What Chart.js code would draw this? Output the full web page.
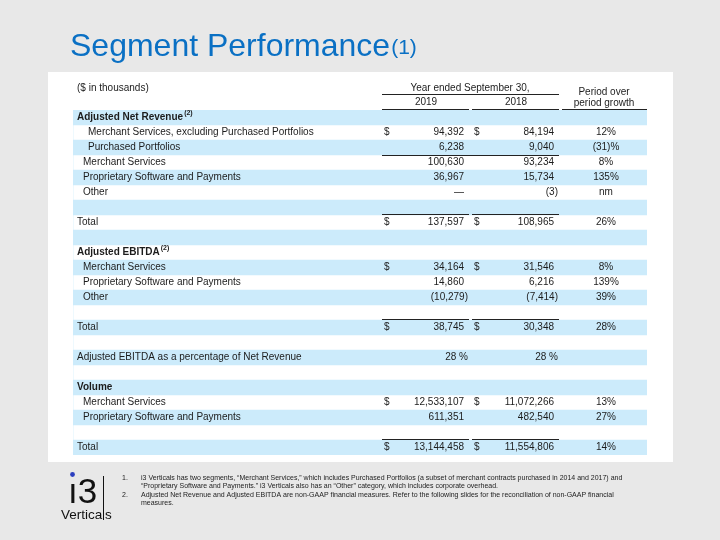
<!DOCTYPE html>
<html>
<head>
<meta charset="utf-8">
<script src="https://cdn.jsdelivr.net/npm/chart.js@4/dist/chart.umd.min.js"></script>
<style>
  html, body { margin: 0; padding: 0; background: #e8e8e8; }
  canvas { display: block; }
</style>
</head>
<body>
<canvas id="myChart" width="720" height="540"></canvas>
<script>
// table rows, top to bottom
const rowLabels = [
    'Adjusted Net Revenue', 'Merchant Services, excluding Purchased Portfolios', 'Purchased Portfolios',
    'Merchant Services', 'Proprietary Software and Payments', 'Other', '', 'Total', '',
    'Adjusted EBITDA', 'Merchant Services', 'Proprietary Software and Payments', 'Other', '', 'Total', '',
    'Adjusted EBITDA as a percentage of Net Revenue', '',
    'Volume', 'Merchant Services', 'Proprietary Software and Payments', '', 'Total'
];
const rowIndent = [0, 2, 2, 1, 1, 1, 0, 0, 0, 0, 1, 1, 1, 0, 0, 0, 0, 0, 0, 1, 1, 0, 0];
const boldRows = [0, 9, 18];
const noteRows = [0, 9];
const values2019 = ['', '94,392', '6,238', '100,630', '36,967', '—', '', '137,597', '',
    '', '34,164', '14,860', '(10,279)', '', '38,745', '', '28 %', '',
    '', '12,533,107', '611,351', '', '13,144,458'];
const values2018 = ['', '84,194', '9,040', '93,234', '15,734', '(3)', '', '108,965', '',
    '', '31,546', '6,216', '(7,414)', '', '30,348', '', '28 %', '',
    '', '11,072,266', '482,540', '', '11,554,806'];
const growth = ['', '12%', '(31)%', '8%', '135%', 'nm', '', '26%', '',
    '', '8%', '139%', '39%', '', '28%', '', '', '',
    '', '13%', '27%', '', '14%'];
const dollarRows = [1, 7, 10, 14, 19, 22];
const subtotalRows = [3];
const totalRows = [7, 14, 22];
const rowBand = [1, 0, 1, 0, 1, 0, 1, 0, 1, 0, 1, 0, 1, 0, 1, 0, 1, 0, 1, 0, 1, 0, 1];

const footnotes = [
    ['1.', 'i3 Verticals has two segments, \u201cMerchant Services,\u201d which includes Purchased Portfolios (a subset of merchant contracts purchased in 2014 and 2017) and'],
    ['', '\u201cProprietary Software and Payments.\u201d i3 Verticals also has an \u201cOther\u201d category, which includes corporate overhead.'],
    ['2.', 'Adjusted Net Revenue and Adjusted EBITDA are non-GAAP financial measures. Refer to the following slides for the reconciliation of non-GAAP financial'],
    ['', 'measures.']
];

const FONT = '"Liberation Sans", Arial, sans-serif';
const INK = '#1c1c1c';
const BLUE = '#0a70c4';

const slidePlugin = {
    id: 'slide',
    beforeDraw(chart) {
        const c = chart.ctx;
        c.save();
        c.fillStyle = '#e8e8e8';
        c.fillRect(0, 0, chart.width, chart.height);
        c.fillStyle = '#ffffff';
        c.fillRect(48, 72, 625, 390);

        // title
        c.fillStyle = BLUE;
        c.textBaseline = 'alphabetic';
        c.font = '32px ' + FONT;
        c.fillText('Segment Performance', 70, 56);
        const w = c.measureText('Segment Performance').width;
        c.font = '21px ' + FONT;
        c.fillText('(1)', 70 + w + 1, 54);

        // column headers
        c.fillStyle = INK;
        c.font = '10px ' + FONT;
        c.textBaseline = 'middle';
        c.textAlign = 'left';
        c.fillText('($ in thousands)', 77, 88);
        c.textAlign = 'center';
        c.fillText('Year ended September 30,', 470, 88);
        c.fillText('2019', 426, 102);
        c.fillText('2018', 516, 102);
        c.fillText('Period over', 604, 92);
        c.fillText('period growth', 604, 103);
        c.strokeStyle = '#222';
        c.lineWidth = 1;
        c.beginPath();
        c.moveTo(382, 94.5); c.lineTo(559, 94.5);
        c.moveTo(382, 109.5); c.lineTo(469, 109.5);
        c.moveTo(472, 109.5); c.lineTo(559, 109.5);
        c.moveTo(562, 109.5); c.lineTo(647, 109.5);
        c.stroke();

        // footnotes
        c.textAlign = 'left';
        c.font = '7px ' + FONT;
        footnotes.forEach((f, i) => {
            const y = 478 + i * 8.4;
            c.fillText(f[0], 122, y);
            c.fillText(f[1], 141, y);
        });

        // logo
        c.fillStyle = '#111';
        c.textBaseline = 'alphabetic';
        c.font = '35px ' + FONT;
        c.fillText('\u01313', 68, 503);
        c.fillStyle = '#2b3fbf';
        c.beginPath();
        c.arc(72.5, 474.5, 2.4, 0, Math.PI * 2);
        c.fill();
        c.fillStyle = '#111';
        c.font = '13.5px ' + FONT;
        c.fillText('Vertica', 61, 519);
        const vw = c.measureText('Vertica').width;
        c.fillRect(Math.round(61 + vw + 1), 476, 1, 44);
        c.fillText('s', Math.round(61 + vw + 3), 519);
        c.restore();
    },
    afterDatasetsDraw(chart) {
        const c = chart.ctx;
        const y = chart.scales.y;
        c.save();
        c.fillStyle = INK;
        c.textBaseline = 'middle';
        rowLabels.forEach((label, i) => {
            const yc = y.getPixelForValue(i);
            const top = yc - 7.5;
            const bold = boldRows.includes(i);
            c.font = (bold ? 'bold ' : '') + '10px ' + FONT;
            c.textAlign = 'left';
            const lx = [77, 83, 88][rowIndent[i]];
            c.fillText(label, lx, yc);
            if (noteRows.includes(i)) {
                const lw = c.measureText(label).width;
                c.font = 'bold 7px ' + FONT;
                c.fillText('(2)', lx + lw + 1, yc - 4);
            }
            c.font = '10px ' + FONT;
            const v1 = values2019[i], v2 = values2018[i];
            c.textAlign = 'right';
            if (v1) c.fillText(v1, /[)%]$/.test(v1) ? 468 : 464, yc);
            if (v2) c.fillText(v2, /[)%]$/.test(v2) ? 558 : 554, yc);
            c.textAlign = 'center';
            if (growth[i]) c.fillText(growth[i], 606, yc);
            if (dollarRows.includes(i)) {
                c.textAlign = 'left';
                c.fillText('$', 384, yc);
                c.fillText('$', 474, yc);
            }
            c.strokeStyle = '#222';
            c.lineWidth = 1;
            if (subtotalRows.includes(i)) {
                c.beginPath();
                c.moveTo(382, Math.round(top) + 0.5); c.lineTo(559, Math.round(top) + 0.5);
                c.stroke();
            }
            if (totalRows.includes(i)) {
                c.beginPath();
                c.moveTo(382, Math.round(top) - 0.5); c.lineTo(469, Math.round(top) - 0.5);
                c.moveTo(472, Math.round(top) - 0.5); c.lineTo(559, Math.round(top) - 0.5);
                c.stroke();
            }
        });
        c.restore();
    }
};

new Chart(document.getElementById('myChart'), {
    type: 'bar',
    data: {
        labels: rowLabels,
        datasets: [{
            data: rowBand,
            backgroundColor: '#ccebfb',
            borderWidth: 0,
            barPercentage: 1,
            categoryPercentage: 1
        }]
    },
    options: {
        indexAxis: 'y',
        responsive: false,
        animation: false,
        layout: {padding: {left: 73, right: 73, top: 110, bottom: 85}},
        scales: {
            x: {display: false, min: 0, max: 1},
            y: {display: false}
        },
        plugins: {
            legend: {display: false},
            tooltip: {enabled: false}
        }
    },
    plugins: [slidePlugin]
});
</script>
</body>
</html>
